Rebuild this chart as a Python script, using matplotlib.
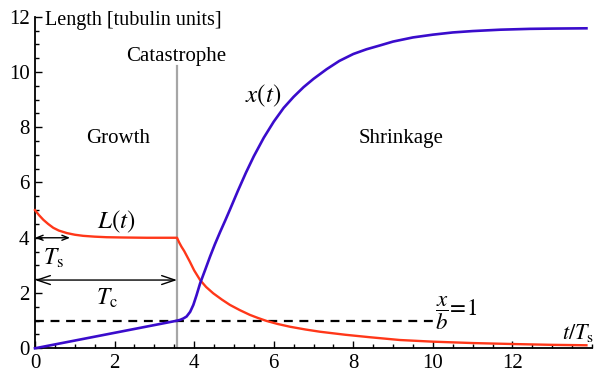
import matplotlib.pyplot as plt
from matplotlib.ticker import MultipleLocator

plt.rcParams['font.family'] = 'serif'
plt.rcParams['font.serif'] = ['Liberation Serif', 'DejaVu Serif']
plt.rcParams['mathtext.fontset'] = 'stix'

# catastrophe time and growth length scales (in units of T_s)
t_cat = 3.57
t_s_arrow = 0.88
cat_line_top = 10.2
xb_level = 1.0
xb_end = 10.0

# L(t): microtubule length
t_L = [0, 0.1, 0.21, 0.33, 0.46, 0.6, 0.8, 1.0, 1.21, 1.5, 1.8, 2.2, 2.8, 3.57,
       3.62, 3.68, 3.75, 3.82, 3.89, 4.0, 4.15, 4.3, 4.48, 4.7, 4.9, 5.15, 5.4,
       5.6, 5.82, 6.1, 6.41, 6.8, 7.16, 7.8, 8.42, 9.17, 10.0, 11.0, 12.0, 13.0, 13.86]
L = [5.0, 4.82, 4.65, 4.5, 4.36, 4.26, 4.17, 4.11, 4.07, 4.04, 4.02, 4.01, 4.0, 4.0,
     3.84, 3.68, 3.52, 3.33, 3.14, 2.82, 2.47, 2.22, 1.99, 1.76, 1.57, 1.38, 1.21,
     1.1, 0.99, 0.88, 0.78, 0.68, 0.6, 0.49, 0.4, 0.3, 0.24, 0.19, 0.155, 0.125, 0.11]

# x(t): cap position
t_x = [0, 3.57, 3.65, 3.73, 3.81, 3.9, 3.98, 4.06, 4.15, 4.28, 4.4, 4.52, 4.65, 4.78,
       4.9, 5.1, 5.3, 5.5, 5.75, 6.0, 6.25, 6.5, 6.75, 7.0, 7.33, 7.65, 8.0, 8.33, 8.67,
       9.0, 9.5, 10.0, 10.5, 11.0, 11.7, 12.44, 13.0, 13.86]
x = [0, 1.0, 1.03, 1.08, 1.15, 1.32, 1.57, 1.92, 2.35, 2.85, 3.32, 3.76, 4.2, 4.62,
     5.02, 5.7, 6.35, 6.95, 7.62, 8.2, 8.7, 9.1, 9.45, 9.75, 10.1, 10.4, 10.65, 10.82, 10.96,
     11.1, 11.25, 11.35, 11.43, 11.48, 11.53, 11.56, 11.57, 11.58]

red = '#ff3719'
blue = '#3a0ccc'

fig = plt.figure(figsize=(5.97, 3.75), dpi=100)
ax = fig.add_axes([35 / 597, 26.7 / 375, 557 / 597, 331.6 / 375])

ax.plot([t_cat, t_cat], [0, cat_line_top], color='#a6a6a6', lw=1.6, zorder=1)
ax.plot([0, xb_end], [xb_level, xb_level], color='black', lw=1.6,
        dashes=(4, 3), zorder=2)
ax.plot(t_L, L, color=red, lw=1.7, zorder=3, clip_on=False)
ax.plot(t_x, x, color=blue, lw=1.9, zorder=4, clip_on=False)

ax.annotate('', xy=(0, 4.0), xytext=(t_s_arrow, 4.0),
            arrowprops=dict(arrowstyle='<->, head_length=0.45, head_width=0.18',
                            lw=1.0, color='black', shrinkA=0, shrinkB=0))
ax.annotate('', xy=(0, 2.47), xytext=(t_cat, 2.47),
            arrowprops=dict(arrowstyle='<->, head_length=0.95, head_width=0.32',
                            lw=1.0, color='black', shrinkA=0, shrinkB=0))

ax.text(0.25, 11.87, 'Length [tubulin units]', fontsize=14.5, ha='left', va='center')
ax.text(3.54, 10.56, 'Catastrophe', fontsize=15, ha='center', va='center')
ax.text(2.09, 7.6, 'Growth', fontsize=15, ha='center', va='center')
ax.text(9.21, 7.6, 'Shrinkage', fontsize=15, ha='center', va='center')
ax.text(5.74, 9.12, r'$x(t)$', fontsize=18, ha='center', va='center')
ax.text(2.05, 4.59, r'$L(t)$', fontsize=18, ha='center', va='center')
ax.text(0.46, 3.26, r'$T_\mathrm{s}$', fontsize=17, ha='center', va='center')
ax.text(1.8, 1.81, r'$T_\mathrm{c}$', fontsize=17, ha='center', va='center')
ax.text(10.05, 1.27, r'$\dfrac{x}{b}\!=\!1$', fontsize=16.5, ha='left', va='center')
ax.text(14.05, 0.54, r'$t/T_\mathrm{s}$', fontsize=16, ha='right', va='center')

ax.set_xlim(0, 14)
ax.set_ylim(0, 12)
ax.set_xticks([0, 2, 4, 6, 8, 10, 12])
ax.set_yticks([0, 2, 4, 6, 8, 10, 12])
ax.xaxis.set_minor_locator(MultipleLocator(0.5))
ax.yaxis.set_minor_locator(MultipleLocator(0.5))
ax.tick_params(which='both', direction='in', width=1.0, labelsize=15, pad=4)
ax.tick_params(which='major', length=5)
ax.tick_params(which='minor', length=3)
for s in ['top', 'right']:
    ax.spines[s].set_visible(False)
for s in ['left', 'bottom']:
    ax.spines[s].set_linewidth(1.3)

fig.savefig('out.png', dpi=100)
